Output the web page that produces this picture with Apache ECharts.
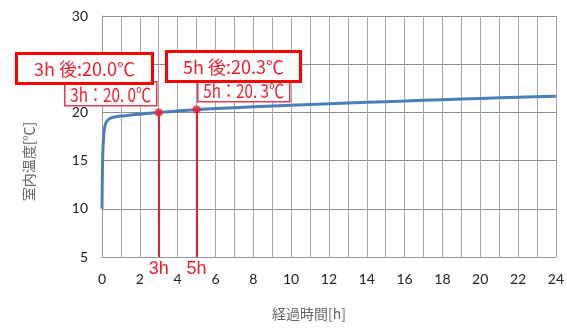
<!DOCTYPE html>
<html>
<head>
<meta charset="utf-8">
<script src="https://cdn.jsdelivr.net/npm/echarts@6/dist/echarts.min.js"></script>
<style>
  html, body { margin: 0; padding: 0; background: #fff; }
  #chart { width: 567px; height: 329px; }
</style>
</head>
<body>
<div id="chart"></div>
<script>
// elapsed time [h] and room temperature [°C]
const hours = [0, 0.02, 0.05, 0.1, 0.15, 0.2, 0.3, 0.4, 0.5, 0.75, 1, 1.5, 2, 3, 4, 5, 6, 8, 10, 12, 14, 16, 18, 20, 22, 24];
const temps = [10, 13.5, 16.2, 17.8, 18.5, 18.9, 19.2, 19.35, 19.45, 19.55, 19.62, 19.72, 19.82, 20.0, 20.15, 20.3, 20.4, 20.58, 20.74, 20.9, 21.05, 21.18, 21.32, 21.45, 21.57, 21.68];

// marked moments
const markHours = [3, 5];
const markTemps = [20.0, 20.3];
const markTicks = ['3h', '5h'];
const bigNotes = ['3h 後:20.0℃', '5h 後:20.3℃'];
const smallNotes = ['3h：20. 0℃', '5h：20. 3℃'];

const xTicks = [0, 2, 4, 6, 8, 10, 12, 14, 16, 18, 20, 22, 24];

const red = '#f01c2c';
const jp = '"Noto Sans CJK JP", sans-serif';

const chart = echarts.init(document.getElementById('chart'));

const noteBox = (x, y, w, h, text, lw, stroke, fontSize, sx) => ({
    type: 'group',
    left: x,
    top: y,
    z: 100,
    children: [
        {
            type: 'rect',
            z: 100,
            shape: { x: 0, y: 0, width: w, height: h },
            style: { fill: '#fff', stroke: stroke, lineWidth: lw }
        },
        {
            type: 'text',
            z: 101,
            x: w / 2,
            y: h / 2 + 1,
            scaleX: sx,
            style: {
                text: text,
                fill: red,
                font: `${fontSize}px ${jp}`,
                align: 'center',
                verticalAlign: 'middle'
            }
        }
    ]
});

const option = {
    animation: false,
    backgroundColor: '#fff',
    grid: { left: 102, right: 8, top: 16, bottom: 72 },
    xAxis: {
        type: 'value',
        min: 0,
        max: 24,
        interval: 1,
        name: '経過時間[h]',
        nameLocation: 'middle',
        nameGap: 50,
        nameTextStyle: { fontFamily: jp, fontSize: 14, color: '#666', padding: [0, 40, 0, 0] },
        axisLine: { show: true, lineStyle: { color: '#999' } },
        axisTick: { show: false },
        axisLabel: {
            margin: 15,
            fontSize: 14,
            color: '#222',
            fontFamily: 'Lato, sans-serif',
            formatter: v => xTicks.includes(v) ? String(v) : ''
        },
        splitLine: { show: true, lineStyle: { color: '#a6a6a6' } }
    },
    yAxis: {
        type: 'value',
        min: 5,
        max: 30,
        interval: 5,
        name: '室内温度[℃]',
        nameLocation: 'middle',
        nameGap: 66,
        nameRotate: 90,
        nameTextStyle: { fontFamily: jp, fontSize: 14, color: '#666', padding: [0, 50, 0, 0] },
        axisLine: { show: true, lineStyle: { color: '#999' } },
        axisTick: { show: false },
        axisLabel: { margin: 14, fontSize: 14, color: '#222', fontFamily: 'Lato, sans-serif' },
        splitLine: { show: true, lineStyle: { color: '#8c8c8c' } }
    },
    series: [
        {
            type: 'line',
            data: hours.map((h, i) => [h, temps[i]]),
            showSymbol: false,
            smooth: 0.3,
            lineStyle: { color: '#4a7ebb', width: 3 },
            z: 3
        },
        {
            type: 'scatter',
            data: markHours.map((h, i) => [h, markTemps[i]]),
            symbolSize: 8,
            itemStyle: { color: red },
            z: 5,
            markLine: {
                silent: true,
                symbol: 'none',
                lineStyle: { color: red, width: 2, type: 'solid' },
                label: {
                    show: true,
                    position: 'end',
                    distance: 3,
                    color: red,
                    fontSize: 18,
                    fontFamily: '"Liberation Sans Narrow", "Liberation Sans", sans-serif',
                    formatter: p => markTicks[p.dataIndex]
                },
                data: markHours.map((h, i) => [
                    { coord: [h, markTemps[i]] },
                    { coord: [h, 5] }
                ])
            }
        }
    ],
    graphic: [
        noteBox(64, 81, 92, 24, smallNotes[0], 1.5, '#e8384f', 19, 0.8),
        noteBox(197, 78, 92, 23, smallNotes[1], 1.5, '#e8384f', 19, 0.8),
        noteBox(15, 52, 136, 30, bigNotes[0], 3, '#ff0000', 18, 1),
        noteBox(165, 50, 134, 30, bigNotes[1], 3, '#ff0000', 18, 1)
    ]
};

chart.setOption(option);
</script>
</body>
</html>
